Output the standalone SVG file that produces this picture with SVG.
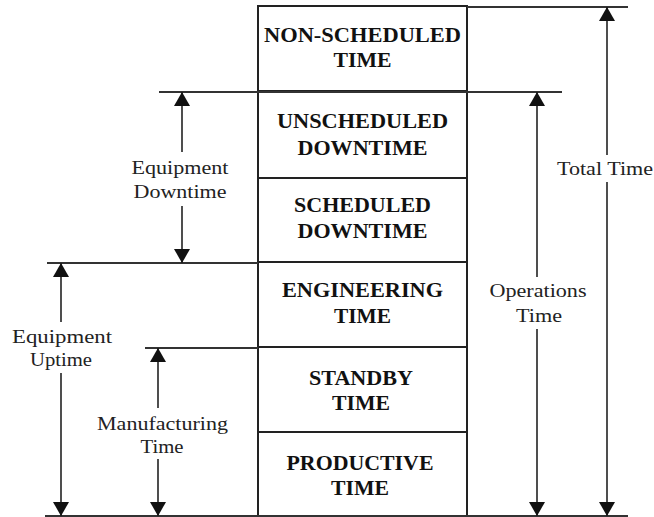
<svg xmlns="http://www.w3.org/2000/svg" width="654" height="517" viewBox="0 0 654 517">
<defs>
<style>
.box{fill:#fff;stroke:#222;stroke-width:2}
.ln{stroke:#333;stroke-width:2;fill:none}
.ar{stroke:#222;stroke-width:1.6;fill:none;marker-end:url(#ah)}
.bt{font-family:"Liberation Serif","Times New Roman",serif;font-weight:bold;font-size:20px;fill:#111;text-anchor:middle}
.lt{font-family:"Liberation Serif","Times New Roman",serif;font-size:18px;fill:#222;text-anchor:middle}
</style>
<marker id="ah" viewBox="0 0 14 16" refX="14" refY="8" markerWidth="14" markerHeight="16" orient="auto" markerUnits="userSpaceOnUse">
<path d="M0,0 L14,8 L0,16 z" fill="#111"/>
</marker>
</defs>
<rect width="654" height="517" fill="#fff"/>

<g id="non-scheduled">
<rect class="box" x="258" y="6" width="209" height="85"/>
<text class="bt" x="362.5" y="42" textLength="197" lengthAdjust="spacingAndGlyphs">NON-SCHEDULED</text>
<text class="bt" x="362.5" y="67" textLength="58" lengthAdjust="spacingAndGlyphs">TIME</text>
</g>
<g id="unscheduled-downtime">
<rect class="box" x="258" y="91" width="209" height="87"/>
<text class="bt" x="362.5" y="128" textLength="171" lengthAdjust="spacingAndGlyphs">UNSCHEDULED</text>
<text class="bt" x="362.5" y="155" textLength="130" lengthAdjust="spacingAndGlyphs">DOWNTIME</text>
</g>
<g id="scheduled-downtime">
<rect class="box" x="258" y="178" width="209" height="84"/>
<text class="bt" x="362.5" y="212" textLength="137" lengthAdjust="spacingAndGlyphs">SCHEDULED</text>
<text class="bt" x="362.5" y="238" textLength="130" lengthAdjust="spacingAndGlyphs">DOWNTIME</text>
</g>
<g id="engineering">
<rect class="box" x="258" y="262" width="209" height="85"/>
<text class="bt" x="362.5" y="297" textLength="161" lengthAdjust="spacingAndGlyphs">ENGINEERING</text>
<text class="bt" x="362.5" y="323" textLength="57" lengthAdjust="spacingAndGlyphs">TIME</text>
</g>
<g id="standby">
<rect class="box" x="258" y="347" width="209" height="85"/>
<text class="bt" x="361" y="385" textLength="104" lengthAdjust="spacingAndGlyphs">STANDBY</text>
<text class="bt" x="361" y="410" textLength="58" lengthAdjust="spacingAndGlyphs">TIME</text>
</g>
<g id="productive">
<rect class="box" x="258" y="432" width="209" height="84"/>
<text class="bt" x="360" y="470" textLength="147" lengthAdjust="spacingAndGlyphs">PRODUCTIVE</text>
<text class="bt" x="360" y="495" textLength="58" lengthAdjust="spacingAndGlyphs">TIME</text>
</g>

<g id="connectors">
<line class="ln" x1="467" y1="7" x2="628" y2="7"/>
<line class="ln" x1="159" y1="92" x2="562" y2="92"/>
<line class="ln" x1="47" y1="263" x2="258" y2="263"/>
<line class="ln" x1="145" y1="348" x2="258" y2="348"/>
<line class="ln" x1="45" y1="516" x2="628" y2="516"/>

<line class="ar" x1="607" y1="155" x2="607" y2="7"/>
<line class="ar" x1="607" y1="182" x2="607" y2="516"/>
<line class="ar" x1="537" y1="277" x2="537" y2="92"/>
<line class="ar" x1="537" y1="329" x2="537" y2="516"/>
<line class="ar" x1="182" y1="152" x2="182" y2="92"/>
<line class="ar" x1="182" y1="206" x2="182" y2="263"/>
<line class="ar" x1="61" y1="322" x2="61" y2="263"/>
<line class="ar" x1="61" y1="373" x2="61" y2="516"/>
<line class="ar" x1="158" y1="408" x2="158" y2="348"/>
<line class="ar" x1="158" y1="459" x2="158" y2="516"/>
</g>

<g id="total-time">
<text class="lt" x="605" y="175" textLength="96" lengthAdjust="spacingAndGlyphs">Total Time</text>
</g>
<g id="operations-time">
<text class="lt" x="538" y="297" textLength="97" lengthAdjust="spacingAndGlyphs">Operations</text>
<text class="lt" x="539" y="322" textLength="46" lengthAdjust="spacingAndGlyphs">Time</text>
</g>
<g id="equipment-downtime">
<text class="lt" x="180" y="174" textLength="97" lengthAdjust="spacingAndGlyphs">Equipment</text>
<text class="lt" x="180" y="198" textLength="93" lengthAdjust="spacingAndGlyphs">Downtime</text>
</g>
<g id="equipment-uptime">
<text class="lt" x="62" y="343" textLength="100" lengthAdjust="spacingAndGlyphs">Equipment</text>
<text class="lt" x="61" y="366" textLength="62" lengthAdjust="spacingAndGlyphs">Uptime</text>
</g>
<g id="manufacturing-time">
<text class="lt" x="162.5" y="430" textLength="131" lengthAdjust="spacingAndGlyphs">Manufacturing</text>
<text class="lt" x="162" y="453" textLength="43" lengthAdjust="spacingAndGlyphs">Time</text>
</g>
</svg>
